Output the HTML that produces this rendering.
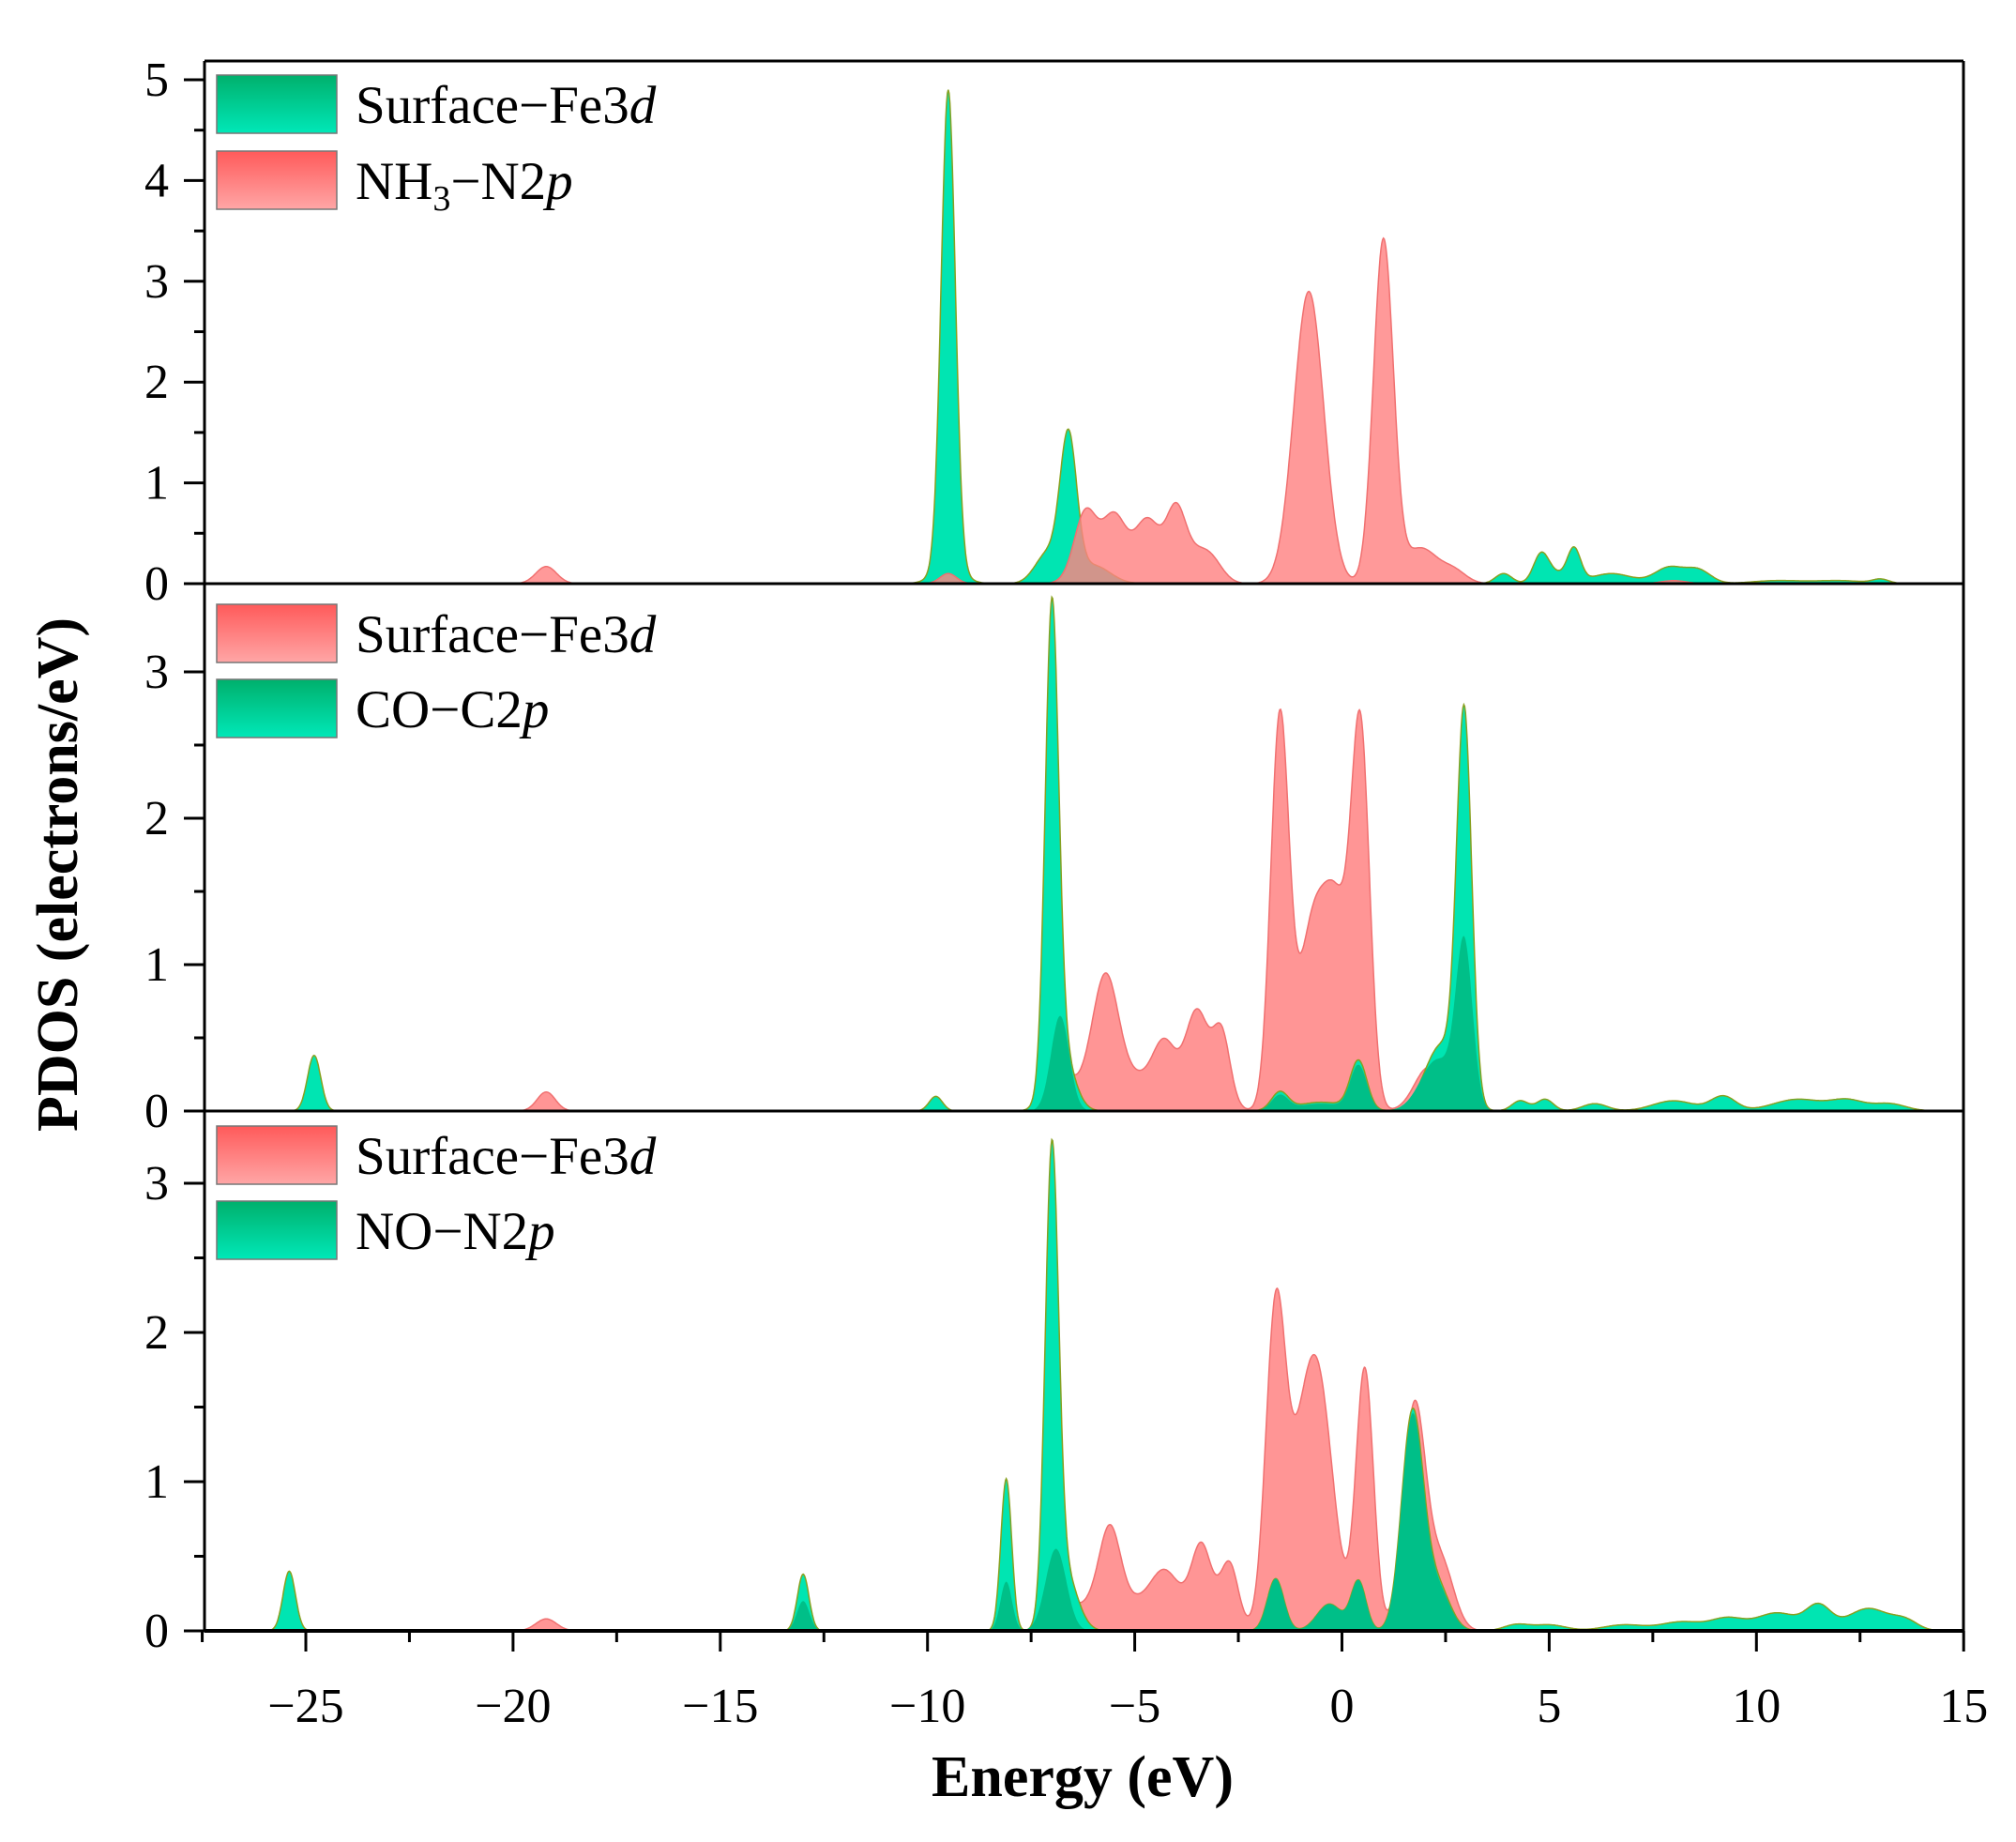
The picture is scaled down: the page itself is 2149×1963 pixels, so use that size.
<!DOCTYPE html>
<html><head><meta charset="utf-8"><style>
html,body{margin:0;padding:0;background:#fff}
svg{display:block}
text{font-family:"Liberation Serif",serif}
</style></head><body>
<svg id="s" width="2149" height="1963" viewBox="0 0 2149 1963" xmlns="http://www.w3.org/2000/svg">
<defs>
<linearGradient id="gg" x1="0" y1="0" x2="0" y2="1"><stop offset="0" stop-color="#00b06c"/><stop offset="1" stop-color="#00e8b8"/></linearGradient>
<linearGradient id="rg" x1="0" y1="0" x2="0" y2="1"><stop offset="0" stop-color="#ff5a5a"/><stop offset="1" stop-color="#ffa6a6"/></linearGradient>
</defs>
<g id="plots"></g>
<g id="axes" stroke="#000" stroke-width="3" fill="none"></g>
<g id="labels" font-size="52" fill="#000"></g>
<g font-size="57" fill="#000">
<rect x="231" y="80" width="128" height="62" fill="url(#gg)" stroke="#777" stroke-width="1.5"/>
<text x="379" y="131">Surface−Fe3<tspan font-style="italic">d</tspan></text>
<rect x="231" y="161" width="128" height="62" fill="url(#rg)" stroke="#777" stroke-width="1.5"/>
<text x="379" y="212">NH<tspan font-size="38" dy="12">3</tspan><tspan dy="-12">−N2</tspan><tspan font-style="italic">p</tspan></text>
<rect x="231" y="644" width="128" height="62" fill="url(#rg)" stroke="#777" stroke-width="1.5"/>
<text x="379" y="695">Surface−Fe3<tspan font-style="italic">d</tspan></text>
<rect x="231" y="724" width="128" height="62" fill="url(#gg)" stroke="#777" stroke-width="1.5"/>
<text x="379" y="775">CO−C2<tspan font-style="italic">p</tspan></text>
<rect x="231" y="1200" width="128" height="62" fill="url(#rg)" stroke="#777" stroke-width="1.5"/>
<text x="379" y="1251">Surface−Fe3<tspan font-style="italic">d</tspan></text>
<rect x="231" y="1280" width="128" height="62" fill="url(#gg)" stroke="#777" stroke-width="1.5"/>
<text x="379" y="1331">NO−N2<tspan font-style="italic">p</tspan></text>
</g>
<text x="1154" y="1914" font-size="62" font-weight="bold" text-anchor="middle">Energy (eV)</text>
<text transform="translate(82,932) rotate(-90)" font-size="62" font-weight="bold" text-anchor="middle">PDOS (electrons/eV)</text>
</svg>
<script>
var NS="http://www.w3.org/2000/svg";
function X(e){return 326+(e+25)*44.18;}
var XMIN=-27.5,XMAX=15;
function curve(peaks){return function(x){var s=0;for(var i=0;i<peaks.length;i++){var p=peaks[i];var d=x-p[0];s+=p[1]*Math.exp(-d*d/(2*p[2]*p[2]));}return s;};}
function path(f,zero,unit){var d="M"+X(XMIN)+","+zero;for(var x=XMIN;x<=XMAX+1e-9;x+=0.02){var y=f(x);d+=" L"+X(x).toFixed(1)+","+(zero-y*unit).toFixed(1);}d+=" L"+X(XMAX)+","+zero+" Z";return d;}
function add(d,fill,op,stroke){var p=document.createElementNS(NS,"path");p.setAttribute("d",d);p.setAttribute("fill",fill);p.setAttribute("fill-opacity",op);p.setAttribute("stroke",stroke);p.setAttribute("stroke-width","1.5");document.getElementById("plots").appendChild(p);}
function bg(a,b,h,n){var r=[];for(var i=0;i<n;i++){r.push([a+(b-a)*i/(n-1),h,0.3]);}return r;}
var G="#00e5b2",DG="#00bf88",R="#ff8282";
var z1=622,u1=107.4;
var g1=curve([[-9.5,4.75,0.17],[-9.5,0.15,0.35],[-6.6,1.4,0.2],[-7.1,0.3,0.3],[-6.0,0.18,0.4],[3.9,0.1,0.2],[4.8,0.25,0.18],[5.6,0.32,0.16],[5.1,0.1,0.3],[6.5,0.1,0.5],[7.9,0.16,0.35],[8.6,0.13,0.3],[10.5,0.03,0.6],[12,0.03,0.6],[13,0.04,0.2]]);
var r1=curve([[-6.2,0.45,0.25],[-5.5,0.35,0.25],[-4.7,0.3,0.25],[-4.0,0.45,0.22],[-3.2,0.25,0.3]].concat(bg(-6.3,-3.6,0.14,10)).concat([[-19.2,0.17,0.25],[-0.8,2.9,0.36],[1.0,3.4,0.24],[1.9,0.35,0.4],[2.7,0.12,0.3],[-9.5,0.1,0.2],[8,0.03,0.3]]));
add(path(g1,z1,u1),G,1,"#88a020");
add(path(r1,z1,u1),R,0.82,"#f07070");
var z2=1184,u2=156;
var r2=curve([[-19.2,0.13,0.22],[-6.8,0.3,0.25],[-5.7,0.7,0.3],[-4.3,0.25,0.25],[-3.5,0.45,0.25],[-2.9,0.4,0.2]].concat(bg(-6.2,-3,0.13,9)).concat([[-1.5,2.65,0.22],[-0.7,1.25,0.35],[-0.1,1.15,0.3],[0.45,2.5,0.22],[2.1,0.3,0.35]]));
var g2=curve([[-24.8,0.38,0.16],[-9.8,0.1,0.16],[-7.0,3.15,0.16],[-6.8,0.45,0.3],[-1.5,0.12,0.2],[0.4,0.33,0.2],[-0.5,0.06,0.6],[2.95,2.6,0.18],[2.4,0.45,0.4],[4.3,0.07,0.2],[4.9,0.08,0.2],[6.1,0.05,0.3],[8,0.07,0.5],[9.2,0.1,0.3],[11,0.08,0.6],[12.2,0.07,0.4],[13.2,0.05,0.4]]);
var dg2=curve([[-6.8,0.65,0.22],[-1.5,0.1,0.2],[0.4,0.3,0.2],[2.95,1.1,0.2],[2.3,0.35,0.4],[-0.5,0.05,0.6]]);
add(path(r2,z2,u2),R,0.85,"#f07070");
add(path(g2,z2,u2),G,1,"#88a020");
add(path(dg2,z2,u2),DG,1,"none");
var z3=1738,u3=159;
var r3=curve([[-19.2,0.08,0.25],[-6.8,0.3,0.25],[-5.6,0.5,0.25],[-4.3,0.2,0.3],[-3.4,0.38,0.22],[-2.7,0.32,0.2]].concat(bg(-6.2,-2.8,0.12,9)).concat([[-1.6,2.1,0.24],[-0.6,1.7,0.38],[0.55,1.75,0.21],[1.75,1.5,0.27],[2.4,0.45,0.3],[-1.1,0.5,0.3]]));
var g3=curve([[-25.4,0.4,0.15],[-13.0,0.38,0.14],[-8.1,1.02,0.13],[-7.0,3.05,0.16],[-6.7,0.4,0.3],[-1.6,0.35,0.2],[-0.3,0.18,0.3],[0.4,0.33,0.18],[1.7,1.45,0.26],[2.3,0.3,0.3],[4.2,0.04,0.3],[5,0.04,0.4],[6.8,0.04,0.5],[8.2,0.06,0.5],[9.3,0.08,0.4],[10.5,0.12,0.5],[11.5,0.16,0.3],[12.7,0.15,0.5],[13.6,0.06,0.3]]);
var dg3=curve([[-13.0,0.2,0.15],[-8.1,0.33,0.14],[-6.9,0.55,0.25],[-1.6,0.35,0.2],[-0.3,0.18,0.3],[0.4,0.33,0.18],[1.7,1.42,0.26],[2.3,0.28,0.3]]);
add(path(r3,z3,u3),R,0.85,"#f07070");
add(path(g3,z3,u3),G,1,"#88a020");
add(path(dg3,z3,u3),DG,1,"none");
var ax=document.getElementById("axes"),lb=document.getElementById("labels");
function line(x1,y1,x2,y2,w){var l=document.createElementNS(NS,"line");l.setAttribute("x1",x1);l.setAttribute("y1",y1);l.setAttribute("x2",x2);l.setAttribute("y2",y2);if(w)l.setAttribute("stroke-width",w);ax.appendChild(l);}
function txt(x,y,s,a){var t=document.createElementNS(NS,"text");t.setAttribute("x",x);t.setAttribute("y",y);t.setAttribute("text-anchor",a);t.textContent=s;lb.appendChild(t);}
var L=218,Rt=2093;
line(L,65,Rt,65);line(L,65,L,1738);line(Rt,65,Rt,1738);
line(L,622,Rt,622);line(L,1184,Rt,1184);line(L,1738,Rt,1738,4);
function yt(zero,unit,max){for(var v=0;v<=max+0.01;v+=0.5){var y=zero-v*unit;var maj=Math.abs(v-Math.round(v))<0.01;line(L-(maj?22:11),y,L,y);if(maj)txt(L-38,y+17,String(Math.round(v)),"end");}}
yt(622,107.4,5);yt(1184,156,3);yt(1738,159,3);
for(var e=-27.5;e<=15.01;e+=2.5){var maj=Math.abs(e/5-Math.round(e/5))<0.01;line(X(e),1738,X(e),1738+(maj?22:12));if(maj&&e>=-25){txt(X(e),1835,(e<0?"−":"")+Math.abs(e),"middle");}}
</script>
</body></html>
